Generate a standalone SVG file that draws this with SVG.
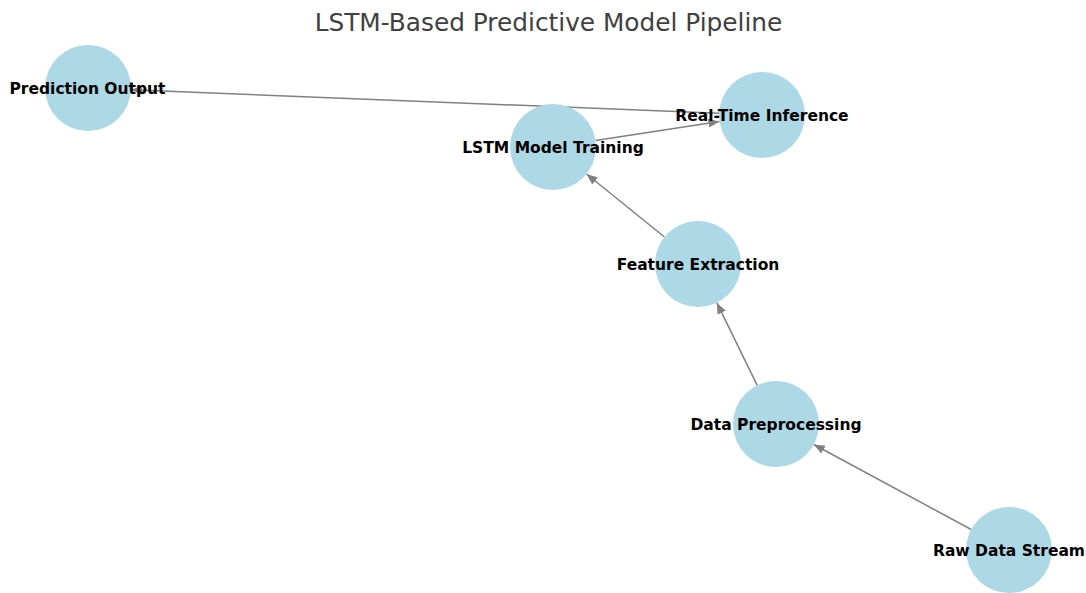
<svg xmlns="http://www.w3.org/2000/svg" width="1086" height="593" viewBox="0 0 1086 593">
<style>
.node circle{fill:#add8e6;}
.node text{font-family:"DejaVu Sans",sans-serif;font-weight:bold;font-size:15.5px;fill:#000;text-anchor:middle;dominant-baseline:central;}
.edge{stroke:#808080;stroke-width:1.5;fill:none;marker-end:url(#arr);}
.title{font-family:"DejaVu Sans",sans-serif;font-size:24.8px;fill:#404040;text-anchor:middle;}
</style>
<defs>
<marker id="arr" markerUnits="userSpaceOnUse" markerWidth="13" markerHeight="10" refX="11" refY="4.5" orient="auto">
<path d="M0,0 L11,4.5 L0,9 Z" fill="#808080"/>
</marker>
</defs>
<rect width="1086" height="593" fill="#fff"/>
<text class="title" x="548.5" y="31">LSTM-Based Predictive Model Pipeline</text>
<g id="connectors">
<line class="edge" x1="971.2" y1="529.5" x2="813.8" y2="444.5"/>
<line class="edge" x1="757.2" y1="385.3" x2="716.8" y2="302.7"/>
<line class="edge" x1="664.5" y1="237" x2="586.5" y2="174"/>
<line class="edge" x1="595.5" y1="140.5" x2="719.5" y2="121.5"/>
<line class="edge" x1="719" y1="113.3" x2="131" y2="89.7"/>
</g>
<g id="node-prediction-output" class="node"><circle cx="88" cy="88" r="43"/><text x="87.5" y="89">Prediction Output</text></g>
<g id="node-real-time-inference" class="node"><circle cx="762" cy="115" r="43"/><text x="762" y="116">Real-Time Inference</text></g>
<g id="node-lstm-model-training" class="node"><circle cx="553" cy="147" r="43"/><text x="553" y="148">LSTM Model Training</text></g>
<g id="node-feature-extraction" class="node"><circle cx="698" cy="264" r="43"/><text x="698" y="265">Feature Extraction</text></g>
<g id="node-data-preprocessing" class="node"><circle cx="776" cy="424" r="43"/><text x="776" y="425">Data Preprocessing</text></g>
<g id="node-raw-data-stream" class="node"><circle cx="1009" cy="550" r="43"/><text x="1009" y="551">Raw Data Stream</text></g>
</svg>
